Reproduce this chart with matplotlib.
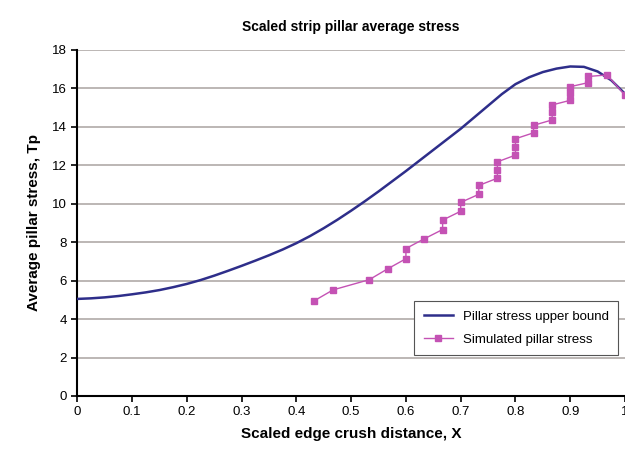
import matplotlib
matplotlib.use('Agg')
import matplotlib.pyplot as plt

plt.rcParams['font.family'] = ['Liberation Sans', 'DejaVu Sans']

# Upper bound curve
bound_x = [0, 0.025, 0.05, 0.075, 0.1, 0.125, 0.15, 0.175, 0.2, 0.225, 0.25,
           0.275, 0.3, 0.325, 0.35, 0.375, 0.4, 0.425, 0.45, 0.475, 0.5,
           0.525, 0.55, 0.575, 0.6, 0.625, 0.65, 0.675, 0.7, 0.725, 0.75,
           0.775, 0.8, 0.825, 0.85, 0.875, 0.9, 0.925, 0.95, 0.975, 1.0]
bound_y = [5.05, 5.08, 5.13, 5.2, 5.29, 5.39, 5.51, 5.66, 5.83, 6.03, 6.26,
           6.51, 6.77, 7.04, 7.32, 7.62, 7.95, 8.32, 8.73, 9.17, 9.64,
           10.13, 10.64, 11.17, 11.7, 12.25, 12.8, 13.35, 13.9, 14.5, 15.1,
           15.7, 16.22, 16.58, 16.85, 17.03, 17.14, 17.12, 16.88, 16.42, 15.72]

# Simulated pillar stress
sim_x = [0.433, 0.467, 0.533, 0.567, 0.6, 0.6, 0.633, 0.667, 0.667, 0.7, 0.7,
         0.733, 0.733, 0.767, 0.767, 0.767, 0.8, 0.8, 0.8, 0.833, 0.833,
         0.867, 0.867, 0.867, 0.9, 0.9, 0.9, 0.933, 0.933, 0.967, 1.0]
sim_y = [4.96, 5.52, 6.05, 6.62, 7.14, 7.67, 8.17, 8.66, 9.15, 9.61, 10.07,
         10.49, 10.95, 11.33, 11.76, 12.18, 12.53, 12.95, 13.38, 13.69, 14.08,
         14.36, 14.75, 15.14, 15.38, 15.74, 16.09, 16.30, 16.62, 16.70, 15.65]

fig = plt.figure(figsize=(6.25, 4.5), dpi=100)
ax = fig.add_axes([0.1237, 0.12, 0.8763, 0.769])

ax.plot(bound_x, bound_y, color='#2e2e8a', lw=1.8, label='Pillar stress upper bound', zorder=3)
ax.plot(sim_x, sim_y, color='#c452b4', lw=1, marker='s', ms=4.5,
        label='Simulated pillar stress', zorder=4, clip_on=False)

ax.set_xlim(0, 1)
ax.set_ylim(0, 18)
ax.set_xticks([i / 10 for i in range(11)])
ax.set_xticklabels(['0', '0.1', '0.2', '0.3', '0.4', '0.5', '0.6', '0.7', '0.8', '0.9', '1'])
ax.set_yticks(range(0, 19, 2))
ax.yaxis.grid(True, color='#b0aaa8', lw=1.2)
ax.set_axisbelow(True)
for s in ['top', 'right']:
    ax.spines[s].set_visible(False)
for s in ['left', 'bottom']:
    ax.spines[s].set_linewidth(1.5)
ax.tick_params(direction='out', length=4, width=1.2, labelsize=9.5)

ax.set_title('Scaled strip pillar average stress', fontsize=10, fontweight='bold', pad=14)
ax.set_xlabel('Scaled edge crush distance, X', fontsize=11, fontweight='bold', labelpad=6)
ax.set_ylabel('Average pillar stress, Tp', fontsize=11, fontweight='bold', labelpad=8)

leg = ax.legend(loc='lower right', bbox_to_anchor=(1.0, 0.1), fontsize=9.5,
                fancybox=False, framealpha=1, edgecolor='#555555',
                handlelength=2.2, borderpad=0.7, labelspacing=0.8)
leg.get_frame().set_linewidth(0.8)

fig.savefig('out.png', dpi=100)
